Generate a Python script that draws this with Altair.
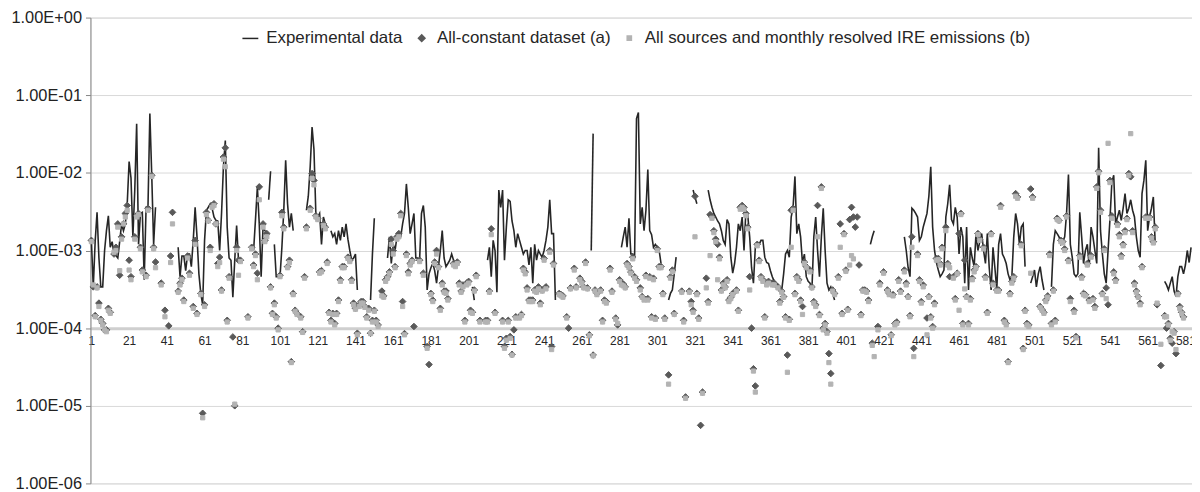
import altair as alt
import pandas as pd

SER_EXP = "Experimental data"
SER_A = "All-constant dataset (a)"
SER_B = "All sources and monthly resolved IRE emissions (b)"
SERIES = [SER_EXP, SER_A, SER_B]

# x-axis tick labels (category numbers)
x_tick_labels = list(range(1, 582, 20))
# y-axis decades
y_ticks = [1e-6, 1e-5, 1e-4, 1e-3, 1e-2, 1e-1, 1.0]

# Experimental data: (first index, consecutive values); gaps between segments
exp_segments = [
    (1, [1.35e-3, 3.4e-4, 1.3e-3, 3.1e-3, 8e-4, 3.4e-4, 3.4e-4, 1e-3, 1.8e-3, 2.8e-3,
         1.1e-3, 1.3e-3, 9e-4, 8.6e-4, 8e-4, 1.3e-3, 2.2e-3, 1.8e-3, 2.2e-3, 4e-3,
         1.4e-2, 8.6e-3, 1.5e-3, 6e-3, 4.3e-2, 1.2e-3, 3e-3, 3.1e-3, 4.2e-4, 3.6e-3,
         3.6e-3, 5.8e-2, 9.3e-3, 1.2e-3, 3.6e-3]),
    (47, [1.1e-3, 4.6e-4, 8.5e-4, 8.5e-4, 5.5e-4, 9e-4, 9e-4, 6.2e-4, 1.35e-3, 3.6e-3,
          1.5e-3, 5e-4, 2.8e-4, 2e-4, 1.35e-3, 3.3e-3, 3.6e-3, 4e-3, 3.5e-3, 2.7e-3,
          2.45e-3, 2.4e-3, 1e-3, 3e-3, 1.2e-2, 2.6e-2, 2e-3, 8e-4, 7.5e-4, 2.5e-4,
          7.5e-4, 2.1e-3, 7.5e-4, 7.5e-4, 7.5e-4]),
    (87, [1e-3, 2.5e-3, 6.6e-3, 2.2e-3, 4.6e-4, 2e-3, 1.8e-3, 1.65e-3]),
    (95, [4.5e-3, 1.05e-2]),
    (98, [1.2e-3, 4.6e-4, 4.6e-4, 4.6e-4, 1.1e-3, 3.3e-3, 1.45e-2, 4e-3, 2e-3, 3e-3, 1.8e-3]),
    (115, [3.3e-3, 5e-3, 1.2e-2, 3.9e-2, 2e-2, 3e-3, 2.7e-3, 3e-3, 1.2e-3, 2.7e-3, 2.2e-3]),
    (128, [1.8e-3, 1.5e-3, 1.65e-3, 1.2e-3, 1.8e-3, 1.35e-3, 2e-3, 1.5e-3, 2.2e-3, 1.4e-3,
           1e-3, 7.5e-4, 8e-4, 9e-4, 3.1e-4]),
    (149, [2.3e-4, 9e-4, 2.6e-3]),
    (158, [8e-4, 1.5e-3, 6.8e-4, 1.2e-3, 1e-3, 1.5e-3, 1.5e-3, 1.5e-3, 2.2e-3, 3e-3,
           7.2e-3, 3.6e-3, 1.65e-3, 2.2e-3, 3e-3, 8e-4, 8e-4, 7.5e-4, 3e-3, 3.8e-3,
           2e-3, 3.1e-4, 5e-4, 6e-4, 6.8e-4, 5.5e-4, 3.8e-4, 6.2e-4, 1e-3, 1.8e-3,
           8e-4, 6.2e-4, 6.8e-4, 7.5e-4, 9e-4, 7.5e-4, 6.8e-4]),
    (203, [3.4e-4, 2.3e-4]),
    (211, [7.5e-4, 1.1e-3, 4.6e-4, 1.35e-3, 1e-3, 2.9e-4, 6e-3, 3.6e-3, 6e-3, 7.5e-4,
           2e-3, 4.5e-3, 4.3e-3, 2.4e-3, 1.8e-3, 1.1e-3, 1.65e-3, 1.35e-3, 1.1e-3, 9e-4,
           1e-3, 1e-3, 6.5e-4, 1.1e-3, 3.8e-4, 1.2e-3, 7.5e-4, 1e-3, 9e-4, 8.2e-4,
           1e-3, 1.35e-3, 2e-3, 4.5e-3, 1.65e-3, 1.65e-3, 2.3e-4]),
    (266, [1e-3, 3.2e-2]),
    (282, [1.1e-3, 1.5e-3, 2e-3, 1.1e-3, 2.6e-3, 9e-4, 9e-4, 8.6e-4, 5e-2, 6e-2,
           2.2e-3, 3.6e-3, 1.8e-3, 3.3e-3, 1.1e-2, 1.8e-3, 1.6e-3, 1.1e-3, 1.2e-3, 1.1e-3,
           1e-3, 6.8e-4]),
    (307, [2.3e-4, 2.8e-4, 3.1e-4, 5e-4, 8.2e-4]),
    (320, [6e-3, 4.9e-3, 4e-3]),
    (328, [6e-3, 4.5e-3, 3.6e-3, 3e-3, 2.7e-3, 2.4e-3, 2.2e-3, 1.8e-3, 1.35e-3, 1.2e-3,
           2.5e-3, 2.2e-3, 8.2e-4, 5.1e-4, 6.8e-4, 1.1e-3, 2.2e-3, 1.8e-3, 2.7e-3, 1e-3,
           3.3e-3, 2.8e-3, 1.5e-3, 6e-4, 3.8e-4, 1.1e-3, 1.2e-3, 1.2e-3, 1.35e-3, 1.35e-3,
           8.2e-4, 7e-4, 6.8e-4, 5.5e-4, 4.6e-4, 4e-4, 3.8e-4, 3.6e-4, 3.4e-4, 3.1e-4,
           5e-4, 9e-4, 1e-3, 8.2e-4, 2.7e-3, 3.6e-3, 9e-3, 1.65e-3, 2.2e-3, 1.5e-3,
           6.8e-4, 9e-4, 4.6e-4, 4e-4, 3.8e-4, 3.1e-4, 1.5e-3, 2.7e-3, 1e-3, 4.6e-4,
           1.5e-3, 3.5e-3, 1e-3, 3.8e-4, 3.1e-4, 3.4e-4, 2.8e-4, 2.3e-4]),
    (414, [1.2e-3, 1.5e-3, 1.8e-3]),
    (432, [1.5e-3, 1e-3, 6e-4, 4.6e-4, 3.5e-3, 3.3e-3, 3e-3, 2.7e-3, 1.35e-3, 1.5e-3,
           2e-3, 2.45e-3, 3e-3, 5e-3, 1.2e-2, 2e-3, 1e-3, 7e-4, 5.6e-4, 4.6e-4,
           5e-4, 5.6e-4, 2.7e-3, 4e-3, 7e-3, 2.5e-3, 2.2e-3, 3.6e-3, 2.7e-3, 9e-4,
           2e-3, 1.5e-3, 3.8e-4, 2e-3, 3.1e-4, 1.1e-3, 8e-4, 6.2e-4, 1.65e-3, 1e-3,
           1.3e-3, 1.65e-3, 1e-3, 6.8e-4, 1.65e-3, 6e-4, 3.1e-4, 1.1e-3, 6e-4, 3.1e-4,
           1.2e-3, 1.65e-3, 9e-4, 8e-4, 6.8e-4, 5e-4, 4.2e-4, 4.6e-4, 1.5e-3, 3e-3,
           2.2e-3, 1.2e-3, 2e-3, 2.2e-3, 6.2e-4]),
    (499, [3.8e-4, 4.6e-4, 5.6e-4, 3.4e-4, 5e-4, 6.2e-4, 4.2e-4, 3.1e-4]),
    (510, [3.4e-4, 1.2e-3, 1.8e-3, 1.65e-3, 1.5e-3, 1.2e-3, 1.3e-3, 1.5e-3, 3e-3, 9.5e-3,
           1.2e-3, 8.2e-4, 5e-4, 4.6e-4, 5e-4, 3.1e-3, 1.5e-3, 6.8e-4, 1e-3, 1.2e-3,
           6.2e-4, 2e-3, 1.5e-3, 1e-3, 6.8e-4, 2.1e-2, 1.8e-3, 9e-4, 5e-4, 3.8e-4,
           1e-3, 2.5e-3, 7.5e-3, 9.3e-3, 2.2e-3, 2.7e-3, 3.3e-3, 2.45e-3, 3.5e-3, 5.4e-3,
           3e-3, 3.5e-3, 4.5e-3, 3.3e-3, 2.7e-3, 1.5e-3, 1e-3, 8.2e-4, 5.4e-3, 8e-3,
           1.45e-2, 1.8e-3, 2.7e-3, 3.5e-3, 4.9e-3, 1.2e-3]),
    (570, [4e-4, 3.6e-4, 3.1e-4, 3.8e-4, 4.6e-4, 3e-4, 2.55e-4, 4.6e-4, 6.2e-4, 6.2e-4,
           5e-4, 6.5e-4, 1e-3, 7e-4, 1.1e-3]),
]

# Markers: (index, all-constant dataset (a), monthly resolved (b)); None = no marker
markers_001_145 = [
    (1, 1.35e-3, 1.3e-3), (2, 3.4e-4, 3.6e-4), (3, 1.45e-4, 1.4e-4), (4, 3.4e-4, 3.3e-4),
    (5, 2.1e-4, 1.9e-4), (6, 1.3e-4, 1.26e-4), (7, 1.15e-4, 1.1e-4), (8, 9.5e-5, 9.5e-5),
    (9, 9.5e-5, 9e-5), (10, 1.8e-4, 1.7e-4), (11, 1.6e-4, 1.55e-4), (13, 9e-4, 9.5e-4),
    (14, 1.1e-3, 1e-3), (15, 2.2e-3, 2e-3), (16, 4.8e-4, 5.5e-4), (17, 1.5e-3, 1.4e-3),
    (18, 2.2e-3, 2.2e-3), (19, 3e-3, 2.7e-3), (20, 3.8e-3, 3.3e-3), (21, 7.5e-4, 5.6e-4),
    (22, 4.6e-4, 4.2e-4), (24, 1.5e-3, 1.4e-3), (25, 2.8e-3, 2.7e-3), (26, 3e-3, 2.9e-3),
    (27, 1.1e-3, 1.05e-3), (28, 5.6e-4, 5.3e-4), (30, 4.8e-4, 4.6e-4), (31, 3.5e-3, 3.3e-3),
    (33, 9.3e-3, 9e-3), (34, 1.1e-3, 1.05e-3), (35, 7.1e-4, 6e-4), (38, 3.8e-4, 3.6e-4),
    (40, 1.7e-4, 1.4e-4), (42, 1.07e-4, None), (43, 8.5e-4, 7e-4), (44, 3.1e-3, 2.2e-3),
    (47, 3e-4, 2.9e-4), (48, 3.8e-4, 3.6e-4), (49, 4.4e-4, 4.2e-4), (50, 2.3e-4, 2.2e-4),
    (52, 8.5e-4, 8e-4), (53, 5.1e-4, 4.8e-4), (55, 1.9e-4, 1.8e-4), (56, 1.35e-3, 1.2e-3),
    (57, 1.55e-4, 1.5e-4), (59, 2.8e-4, 2.7e-4), (60, 8e-6, 7e-6), (61, 2e-4, 1.9e-4),
    (62, 3.1e-3, 2.9e-3), (63, 2.45e-3, 2.4e-3), (64, 1.1e-3, 1e-3), (65, 3.8e-3, 3.6e-3),
    (66, 4e-3, 3.8e-3), (67, 2.2e-3, 2.2e-3), (68, 6.8e-4, 6.2e-4), (69, 8.2e-4, 7e-4),
    (70, 3.1e-4, 3e-4), (71, 1.6e-2, 1.5e-2), (72, 2.1e-2, 1.2e-2), (73, 1.26e-4, 1.2e-4),
    (74, 4.6e-4, 4.4e-4), (76, 7.7e-5, None), (77, 1e-5, 1.05e-5), (78, 1.1e-3, 1e-3),
    (79, 7.5e-4, 4.8e-4), (80, 7.5e-4, 7.2e-4), (84, 1.4e-4, 1.35e-4), (86, 1.1e-3, 1.05e-3),
    (87, 6.5e-4, 6.2e-4), (88, 9e-4, 8.6e-4), (89, 5.1e-4, 4.2e-4), (90, 6.6e-3, 4.5e-3),
    (92, 2.2e-3, 2e-3), (93, 1.35e-3, 1.3e-3), (94, 1.65e-3, 1.5e-3), (96, 3.4e-4, 3.3e-4),
    (97, 1.55e-4, 1.5e-4), (98, 2.1e-4, 2e-4), (99, 1.4e-4, 1.35e-4), (100, 1e-4, 9.5e-5),
    (101, 4.8e-4, 4.6e-4), (102, 3.1e-3, 2.8e-3), (103, 2e-3, 1.9e-3), (105, 6.2e-4, 6e-4),
    (106, 7.5e-4, 7e-4), (107, 3.7e-5, 3.6e-5), (108, 2.8e-4, 2.7e-4), (109, 1.7e-4, 1.65e-4),
    (110, 1.55e-4, 1.5e-4), (112, 1.4e-4, 1.35e-4), (113, 9e-5, 8.8e-5), (114, 4.6e-4, 4.4e-4),
    (115, 2e-3, 1.9e-3), (117, 3.5e-3, 3.3e-3), (118, 9.8e-3, 8.5e-3), (119, 8e-3, 7e-3),
    (120, 2.8e-3, 2.7e-3), (121, 2.6e-3, 2.5e-3), (122, 5.3e-4, 5.1e-4), (123, 5.5e-4, 5.3e-4),
    (124, 2.2e-3, 2.1e-3), (125, 2e-3, 1.9e-3), (126, 7.1e-4, 6.8e-4), (127, 1.6e-4, 1.55e-4),
    (128, 1.26e-4, 1.2e-4), (129, 1.55e-4, 1.5e-4), (130, 1.15e-4, 1.1e-4), (131, 1.55e-4, 1.5e-4),
    (132, 2.3e-4, 2.2e-4), (133, 4.2e-4, 4e-4), (134, 6.2e-4, 6e-4), (135, 6.2e-4, 6e-4),
    (137, 8.2e-4, 7.9e-4), (138, 7.5e-4, 7.2e-4), (139, 4.2e-4, 4e-4), (140, 2.1e-4, 2e-4),
    (141, 1.8e-4, 1.75e-4), (142, 8.6e-5, 8.2e-5), (143, 2e-4, 1.9e-4), (144, 2.2e-4, 2.1e-4),
    (145, 2.2e-4, 2.1e-4),
]
markers_146_300 = [
    (146, 1.9e-4, 1.85e-4), (147, 1.4e-4, 1.35e-4), (148, 1.8e-4, 1.7e-4), (149, 8.6e-5, 8.5e-5),
    (150, 1.26e-4, 1.2e-4), (151, 1.7e-4, 1.65e-4), (152, 1.26e-4, 1.2e-4), (153, 1.1e-4, 1.05e-4),
    (155, 3e-4, 2.6e-4), (156, 2.6e-4, 2.5e-4), (157, 4.2e-4, 4e-4), (158, 4.6e-4, 4.4e-4),
    (159, 5.3e-4, 5.1e-4), (160, 1.4e-3, 1.2e-3), (161, 1e-3, 9e-4), (162, 6.2e-4, 6e-4),
    (163, 1.5e-3, 1.4e-3), (164, 1.65e-3, 1.5e-3), (165, 3e-3, 2.8e-3), (166, 2.2e-4, 1.9e-4),
    (167, 8.5e-5, 8.2e-5), (168, 9e-4, 8.6e-4), (169, 5.3e-4, 5e-4), (170, 6.8e-4, 6.5e-4),
    (171, 7.5e-4, 7.2e-4), (172, 1.05e-4, None), (175, 7.5e-4, 7.2e-4), (177, 5.1e-4, 4.8e-4),
    (179, 5.8e-5, 5.5e-5), (180, 3.4e-5, None), (181, 2.8e-4, 2.7e-4), (182, 2.3e-4, 2.2e-4),
    (183, 7.1e-4, 6.8e-4), (184, 1e-3, 9e-4), (185, 6.2e-4, 6e-4), (186, 1.8e-4, 1.7e-4),
    (187, 3.8e-4, 3.6e-4), (188, 3e-4, 2.9e-4), (189, 3e-4, 2.8e-4), (190, 2.4e-4, 2.3e-4),
    (193, 6.8e-4, 6.5e-4), (194, 6.5e-4, 6.2e-4), (195, 7.1e-4, 6.8e-4), (196, 3.8e-4, 3.6e-4),
    (197, 3e-4, 2.9e-4), (198, 3.6e-4, 3.4e-4), (199, 1.26e-4, 1.2e-4), (200, 3.8e-4, 3.6e-4),
    (201, 4e-4, 3.8e-4), (202, 1.7e-4, 1.6e-4), (203, 1.6e-4, 1.55e-4), (204, 3.1e-4, 3e-4),
    (205, 4.8e-4, 4.6e-4), (207, 1.26e-4, 1.2e-4), (210, 1.26e-4, 1.2e-4), (211, 1.26e-4, 1.2e-4),
    (212, 3e-4, 2.9e-4), (213, 1.9e-3, 1.6e-3), (215, 1.6e-4, 1.55e-4), (219, 1.26e-4, 1.2e-4),
    (220, 5.8e-5, 5.5e-5), (221, 7.4e-5, 7e-5), (222, 1.26e-4, 1.2e-4), (223, 7.8e-5, 7.4e-5),
    (224, 4.6e-5, 4.5e-5), (225, 9.5e-5, None), (226, 1.4e-4, 1.35e-4), (228, 1.4e-4, 1.35e-4),
    (229, 1.5e-4, 1.45e-4), (230, 5.9e-4, 5.6e-4), (231, 5.3e-4, 5e-4), (232, 3.3e-4, 3.1e-4),
    (233, 2.3e-4, 2.2e-4), (234, 2.3e-4, 2.2e-4), (235, 2.3e-4, 2.2e-4), (236, 3.1e-4, 3e-4),
    (237, 3e-4, 2.9e-4), (238, 3.4e-4, 3.2e-4), (239, 2.1e-4, 2e-4), (240, 3.1e-4, 3e-4),
    (241, 7.9e-4, 7.5e-4), (242, 3.4e-4, 3.2e-4), (244, 1e-3, 9.5e-4), (245, 5.8e-5, 5.3e-5),
    (246, 6.8e-4, 6.5e-4), (249, 2.8e-4, 2.7e-4), (250, 2.7e-4, 2.6e-4), (251, 2.6e-4, 2.5e-4),
    (253, 1.4e-4, 1.35e-4), (254, 1e-4, None), (255, 3.3e-4, 3.2e-4), (257, 5.9e-4, 5.6e-4),
    (258, 3.4e-4, 3.3e-4), (260, 4.4e-4, 4.2e-4), (261, 4e-4, 3.8e-4), (262, 3.4e-4, 3.3e-4),
    (263, 7.1e-4, 6.8e-4), (264, 3.3e-4, 3.2e-4), (265, 8.2e-5, 8e-5), (267, 4.5e-5, 4.4e-5),
    (268, 3.1e-4, 3e-4), (269, 2.8e-4, 2.7e-4), (271, 3.1e-4, 3e-4), (272, 1.26e-4, 1.2e-4),
    (273, 2.3e-4, 2.2e-4), (274, 2.2e-4, 2.1e-4), (276, 5.9e-4, 5.6e-4), (277, 3e-4, 2.9e-4),
    (279, 1.35e-4, 1.3e-4), (280, 1.1e-4, 1.15e-4), (281, 4.2e-4, 4e-4), (282, 3.8e-4, 3.6e-4),
    (283, 3.7e-4, 3.5e-4), (284, 3.4e-4, 3.3e-4), (285, 6.8e-4, 6.5e-4), (286, 6.2e-4, 6e-4),
    (287, 5.3e-4, 5.1e-4), (288, 8.2e-4, 7.8e-4), (289, 4.6e-4, 4.4e-4), (290, 4.2e-4, 4e-4),
    (292, 3.3e-4, 3.1e-4), (293, 2.55e-4, 2.5e-4), (294, 2.4e-4, 2.3e-4), (295, 4.8e-4, 4.6e-4),
    (296, 2.4e-4, 2.3e-4), (297, 4.6e-4, 4.4e-4), (298, 1.4e-4, 1.35e-4), (299, 4.4e-4, 4.2e-4),
    (300, 1.35e-4, 1.3e-4),
]
markers_301_440 = [
    (301, 1.05e-3, 1e-3), (302, 6.2e-4, 6e-4), (303, 6.2e-4, 6e-4), (304, 2.8e-4, 2.7e-4),
    (305, 1.35e-4, 1.3e-4), (307, 2.5e-5, 1.9e-5), (308, 4.6e-4, 4.4e-4), (309, 5.6e-4, 5.3e-4),
    (310, 1.55e-4, 1.5e-4), (314, 3e-4, 2.9e-4), (315, 1.26e-4, 1.2e-4), (316, 1.3e-5, 1.25e-5),
    (318, 3e-4, 2.9e-4), (319, 2.2e-4, 2e-4), (320, 1.7e-4, 1.6e-4), (321, 5e-3, 1.5e-3),
    (322, 2.8e-4, 2.7e-4), (323, 1.35e-4, 1.3e-4), (324, 5.6e-6, None), (325, 1.5e-5, 1.45e-5),
    (327, 4.4e-4, 3.3e-4), (328, 2.2e-4, 2.1e-4), (329, 2.9e-3, 8.6e-4), (330, 2.7e-3, 2.6e-3),
    (331, 1.8e-3, 1.7e-3), (332, 1.4e-3, 1.3e-3), (333, 1.2e-3, 4.2e-4), (334, 8.2e-4, 7.8e-4),
    (335, 3.1e-4, 3e-4), (336, 3.8e-4, 3.6e-4), (337, 3.4e-4, 3.3e-4), (338, 4.2e-4, 4e-4),
    (339, 2.3e-4, 2.2e-4), (340, 2.5e-4, 2.4e-4), (341, 2.8e-4, 2.7e-4), (343, 3.1e-4, 3e-4),
    (344, 1.7e-4, 1.65e-4), (345, 3.6e-3, 3.4e-3), (346, 3.8e-3, 3.6e-3), (347, 3.6e-3, 3.4e-3),
    (348, 3e-3, 2.8e-3), (349, 2e-3, 1.9e-3), (350, 4.6e-4, 3.1e-4), (351, 1e-4, None),
    (352, 3e-5, 2.8e-5), (353, 1.8e-5, 1.5e-5), (354, 1.2e-3, 1.15e-3), (355, 7.5e-4, 7.2e-4),
    (356, 4.6e-4, 4.4e-4), (357, 4.2e-4, 4e-4), (358, 1.4e-4, 1.35e-4), (359, 3.8e-4, 3.6e-4),
    (360, 4e-4, 3.8e-4), (362, 3.8e-4, 3.6e-4), (363, 3.8e-4, 3.6e-4), (365, 3.4e-4, 3.3e-4),
    (366, 2.2e-4, 2.1e-4), (367, 3e-4, 2.9e-4), (368, 2.55e-4, 2.5e-4), (369, 1.4e-4, 1.35e-4),
    (370, 4.5e-5, 2.7e-5), (371, 1.3e-4, 1.26e-4), (372, 3.3e-3, 1.1e-3), (373, 3.5e-3, 3.3e-3),
    (374, 2.8e-4, 2.7e-4), (375, 4.6e-4, 4.4e-4), (376, 4.2e-4, 4e-4), (377, 2.3e-4, 2.2e-4),
    (378, 1.9e-4, 1.5e-4), (379, 7.1e-4, 6.8e-4), (380, 6.2e-4, 6e-4), (382, 5.6e-4, 5.3e-4),
    (383, 3.4e-4, 3.3e-4), (384, 2.2e-4, 2.1e-4), (385, 2e-4, 1.9e-4), (386, 3.8e-3, 1.5e-3),
    (387, 1.5e-4, 1.45e-4), (388, 6.6e-3, 6.3e-3), (389, 1e-4, 9.5e-5), (390, 1.15e-4, 1.1e-4),
    (391, 9e-5, 8.6e-5), (392, 4.7e-5, 3.6e-5), (393, 2.6e-5, 1.9e-5), (394, 3.1e-4, 3e-4),
    (395, 2.8e-4, 2.7e-4), (397, 4.6e-4, 4.4e-4), (398, 2.2e-3, 1.1e-3), (399, 1.55e-4, 1.5e-4),
    (400, 1.65e-3, 1.6e-3), (401, 5.6e-4, 5.4e-4), (402, 1.75e-4, 1.7e-4), (403, 2.5e-3, 6.5e-4),
    (404, 3.6e-3, 8.6e-4), (405, 2.7e-3, 7.8e-4), (406, 2e-3, None), (407, 2.7e-3, None),
    (408, 6.5e-4, None), (409, 1.5e-4, 1.45e-4), (410, 3.1e-4, 3e-4), (411, 3.1e-4, 3e-4),
    (412, 3e-4, 2.9e-4), (413, 2.3e-4, 2.2e-4), (415, 6.4e-5, 6e-5), (416, None, 4.3e-5),
    (418, 1.05e-4, 9.5e-5), (419, 3.8e-4, 3.6e-4), (421, 5.3e-4, 5.1e-4), (423, 3.1e-4, 3e-4),
    (424, 2.8e-4, 2.7e-4), (425, 8.2e-5, 8e-5), (426, 2.7e-4, 2.6e-4), (427, 1.15e-4, 1.1e-4),
    (428, 1.2e-4, 1.15e-4), (429, 4.2e-4, 4e-4), (430, 3e-4, 2.9e-4), (432, 5.6e-4, 5.3e-4),
    (433, 3.8e-4, 3.6e-4), (434, 2.55e-4, 2.5e-4), (435, 1.45e-4, 1.4e-4), (436, 1.5e-3, 1.1e-3),
    (437, 5.5e-5, 4.3e-5), (439, 9e-4, 8.6e-4), (440, 4.2e-4, 4e-4),
]
markers_441_584 = [
    (441, 2.2e-4, 2.1e-4), (442, 3.6e-4, 3.4e-4), (444, 1.35e-4, 8.2e-5), (445, 2.55e-4, 2.5e-4),
    (446, 1.4e-4, 1.35e-4), (447, 1.05e-4, 1e-4), (448, 2.1e-4, 2e-4), (449, 7.9e-4, 7.5e-4),
    (450, 7.9e-4, 7.6e-4), (451, 6.8e-4, 6.5e-4), (452, 1.1e-3, 1.05e-3), (454, 2e-3, 1.8e-3),
    (455, 6.8e-4, 6.5e-4), (456, 4.6e-4, 6e-4), (458, 4.6e-4, 4.4e-4), (459, 2.4e-4, 2.3e-4),
    (460, 5.1e-4, 5e-4), (461, 1.65e-3, 1.7e-4), (462, 3e-3, 2.9e-3), (463, 1.15e-4, 1.1e-4),
    (464, 7.5e-4, 3.2e-4), (465, 2.55e-4, 2.5e-4), (466, 1.15e-4, 1.1e-4), (467, 2.4e-4, 2.3e-4),
    (468, 4.4e-4, 4.2e-4), (469, 5.6e-4, 5.3e-4), (470, 6.2e-4, 6e-4), (471, 1.65e-3, 1.6e-3),
    (472, 1.4e-3, 1.35e-3), (474, 1.1e-3, 1.05e-3), (475, 4.6e-4, 4.4e-4), (476, 1.6e-4, 1.55e-4),
    (478, 1.65e-3, 1.6e-3), (479, 3.8e-4, 3.6e-4), (481, 3.1e-4, 3e-4), (482, 3.1e-4, 3e-4),
    (483, 3.8e-3, 3.6e-3), (485, 1.26e-4, 1.2e-4), (486, 1.15e-4, 1.1e-4), (487, 3.7e-5, 3.6e-5),
    (488, 2.8e-4, 2.7e-4), (489, 4e-4, 3.8e-4), (490, 4.6e-4, 4.4e-4), (491, 5.4e-3, 5e-3),
    (492, 4.9e-3, 4.7e-3), (494, 1.2e-3, 1.15e-3), (495, 5.5e-5, 5.3e-5), (496, 1.7e-4, 1.65e-4),
    (497, 1.15e-4, 1.1e-4), (498, 1.1e-4, 1.05e-4), (499, 6.2e-3, 5.1e-4), (500, 4.9e-3, 4.7e-3),
    (504, 1.9e-4, 1.85e-4), (505, 1.75e-4, 1.7e-4), (506, 1.6e-4, 1.55e-4), (507, 2.3e-4, 2.2e-4),
    (508, 2.6e-4, 2.5e-4), (509, 9e-4, 8.6e-4), (510, 1.15e-4, 1.1e-4), (511, 3.1e-4, 3e-4),
    (512, 1.26e-4, 1.2e-4), (513, 2.6e-3, 2.5e-3), (514, 2.45e-3, 2.4e-3), (515, 1.35e-3, 1.3e-3),
    (516, 1.3e-3, 1.25e-3), (517, 1.05e-3, 1e-3), (518, 2.8e-3, 2.7e-3), (519, 7.5e-4, 7.2e-4),
    (520, 2.4e-4, 2.2e-4), (522, 1.7e-4, 1.6e-4), (523, 7.8e-5, 7.5e-5), (525, 8.6e-4, 8.2e-4),
    (526, 4.6e-4, 4.4e-4), (527, 2.8e-4, 2.7e-4), (528, 2.7e-4, 2.6e-4), (529, 6.8e-4, 6.5e-4),
    (530, 2.3e-4, 2.2e-4), (531, 8.6e-4, 8.2e-4), (532, 2.4e-4, 2.3e-4), (533, 1.9e-4, 1.8e-4),
    (534, 6.6e-3, 6.3e-3), (535, 1.05e-2, 1e-2), (536, 3.3e-3, 3.1e-3), (537, 2.8e-4, 2.7e-4),
    (538, 1.05e-3, 1e-3), (539, 3.3e-4, 2.4e-4), (540, 2e-4, 2.4e-2), (541, 8e-3, 7.5e-3),
    (542, 2.8e-3, 2.6e-3), (543, 5.3e-4, 5e-4), (544, 4.2e-4, 4e-4), (545, 2.2e-3, 2.1e-3),
    (546, 1.6e-3, 1.5e-3), (547, 8.6e-4, 8.2e-4), (548, 1.2e-3, 1.15e-3), (549, 1.8e-3, 1.7e-3),
    (550, 2.6e-3, 2.5e-3), (551, 9.8e-3, 9.3e-3), (552, 8.9e-3, 3.2e-2), (553, 1.8e-3, 1.7e-3),
    (554, 3.8e-4, 3.6e-4), (555, 3e-4, 2.9e-4), (556, 2.55e-4, 2.5e-4), (557, 2.1e-4, 2e-4),
    (558, 6.2e-4, 6e-4), (560, 2.7e-3, 2.6e-3), (562, 2.7e-3, 2.6e-3), (563, 1.5e-3, 1.45e-3),
    (564, 1.3e-3, 1.25e-3), (565, 2e-3, 1.9e-3), (566, 2e-4, 2.1e-4), (568, 3.3e-5, 6.2e-5),
    (570, 1.45e-4, 1.4e-4), (571, 1e-4, 1.4e-4), (572, 1.15e-4, 1.1e-4), (573, 7.4e-5, 7e-5),
    (574, 6.4e-5, 9e-5), (575, 9e-5, 8.6e-5), (576, 4.7e-5, 5.3e-5), (577, 2.8e-4, 2.7e-4),
    (578, 1.9e-4, 1.8e-4), (579, 1.6e-4, 1.55e-4), (580, 1.4e-4, 1.35e-4),
]

# ---- build tables ----
line_rows = []
for seg_id, (start, vals) in enumerate(exp_segments):
    for k, v in enumerate(vals):
        line_rows.append({"idx": start + k, "val": v, "seg": seg_id, "series": SER_EXP})
line_df = pd.DataFrame(line_rows)

a_rows, b_rows = [], []
for part in (markers_001_145, markers_146_300, markers_301_440, markers_441_584):
    for i, av, bv in part:
        if av is not None:
            a_rows.append({"idx": i, "val": av, "series": SER_A})
        if bv is not None:
            b_rows.append({"idx": i, "val": bv, "series": SER_B})
a_df = pd.DataFrame(a_rows)
b_df = pd.DataFrame(b_rows)

FONT = "Liberation Sans"
PLOT_W, PLOT_H = 1109, 469
COLORS = ["#262626", "#595959", "#b3b3b3"]

color_scale = alt.Scale(domain=SERIES, range=COLORS)
stroke_scale = alt.Scale(domain=SERIES, range=COLORS)
shape_scale = alt.Scale(domain=SERIES, range=["stroke", "diamond", "square"])
size_scale = alt.Scale(type="ordinal", domain=SERIES, range=[256, 44, 18])

legend = alt.Legend(
    title=None, orient="none", direction="horizontal", legendX=152, legendY=12,
    labelFont=FONT, labelFontSize=17, labelFontWeight="normal", labelColor="#262626",
    labelLimit=0, labelOffset=7, columnPadding=10, symbolStrokeWidth=1.5,
)

x_enc = alt.X(
    "idx:Q",
    scale=alt.Scale(domain=[0.5, 584.5], nice=False, zero=False),
    axis=alt.Axis(
        values=x_tick_labels, format="d", title=None, grid=False,
        offset=-PLOT_H * 2 / 6, domainColor="#cfcfcf", domainWidth=3,
        ticks=False, labelPadding=7, labelFont=FONT, labelFontSize=12,
        labelColor="#262626", labelFlush=False, labelOverlap=False,
    ),
)
y_enc = alt.Y(
    "val:Q",
    scale=alt.Scale(type="log", domain=[1e-6, 1], nice=False),
    axis=alt.Axis(
        values=y_ticks, title=None, grid=True, gridColor="#d9d9d9", gridWidth=1,
        domainColor="#868686", tickColor="#868686", tickSize=5, labelPadding=4,
        labelFont=FONT, labelFontSize=16.5, labelColor="#222222", labelFlush=False,
        labelOverlap=False,
        labelExpr="'1.00E' + (datum.value >= 0.5 ? '+00' : '-0' + format(-log(datum.value)/LN10, '.0f'))",
    ),
)

line = alt.Chart(line_df).mark_line(strokeWidth=1.6).encode(
    x=x_enc, y=y_enc,
    color=alt.Color("series:N", scale=color_scale, legend=legend),
    stroke=alt.Stroke("series:N", scale=stroke_scale, legend=legend),
    detail="seg:N",
)

def points(df):
    return alt.Chart(df).mark_point(filled=True, opacity=1, strokeWidth=1).encode(
        x=x_enc, y=y_enc,
        color=alt.Color("series:N", scale=color_scale, legend=legend),
        stroke=alt.Stroke("series:N", scale=stroke_scale, legend=legend),
        shape=alt.Shape("series:N", scale=shape_scale, legend=legend),
        size=alt.Size("series:N", scale=size_scale, legend=legend),
    )

chart = alt.layer(line, points(a_df), points(b_df)).properties(
    width=PLOT_W, height=PLOT_H,
    padding={"left": 83, "top": 8, "right": 0, "bottom": 7},
    autosize=alt.AutoSizeParams(type="none"),
).configure_view(stroke=None).configure(background="white")

chart.save("out.html", embed_options={"renderer": "svg", "actions": False})
